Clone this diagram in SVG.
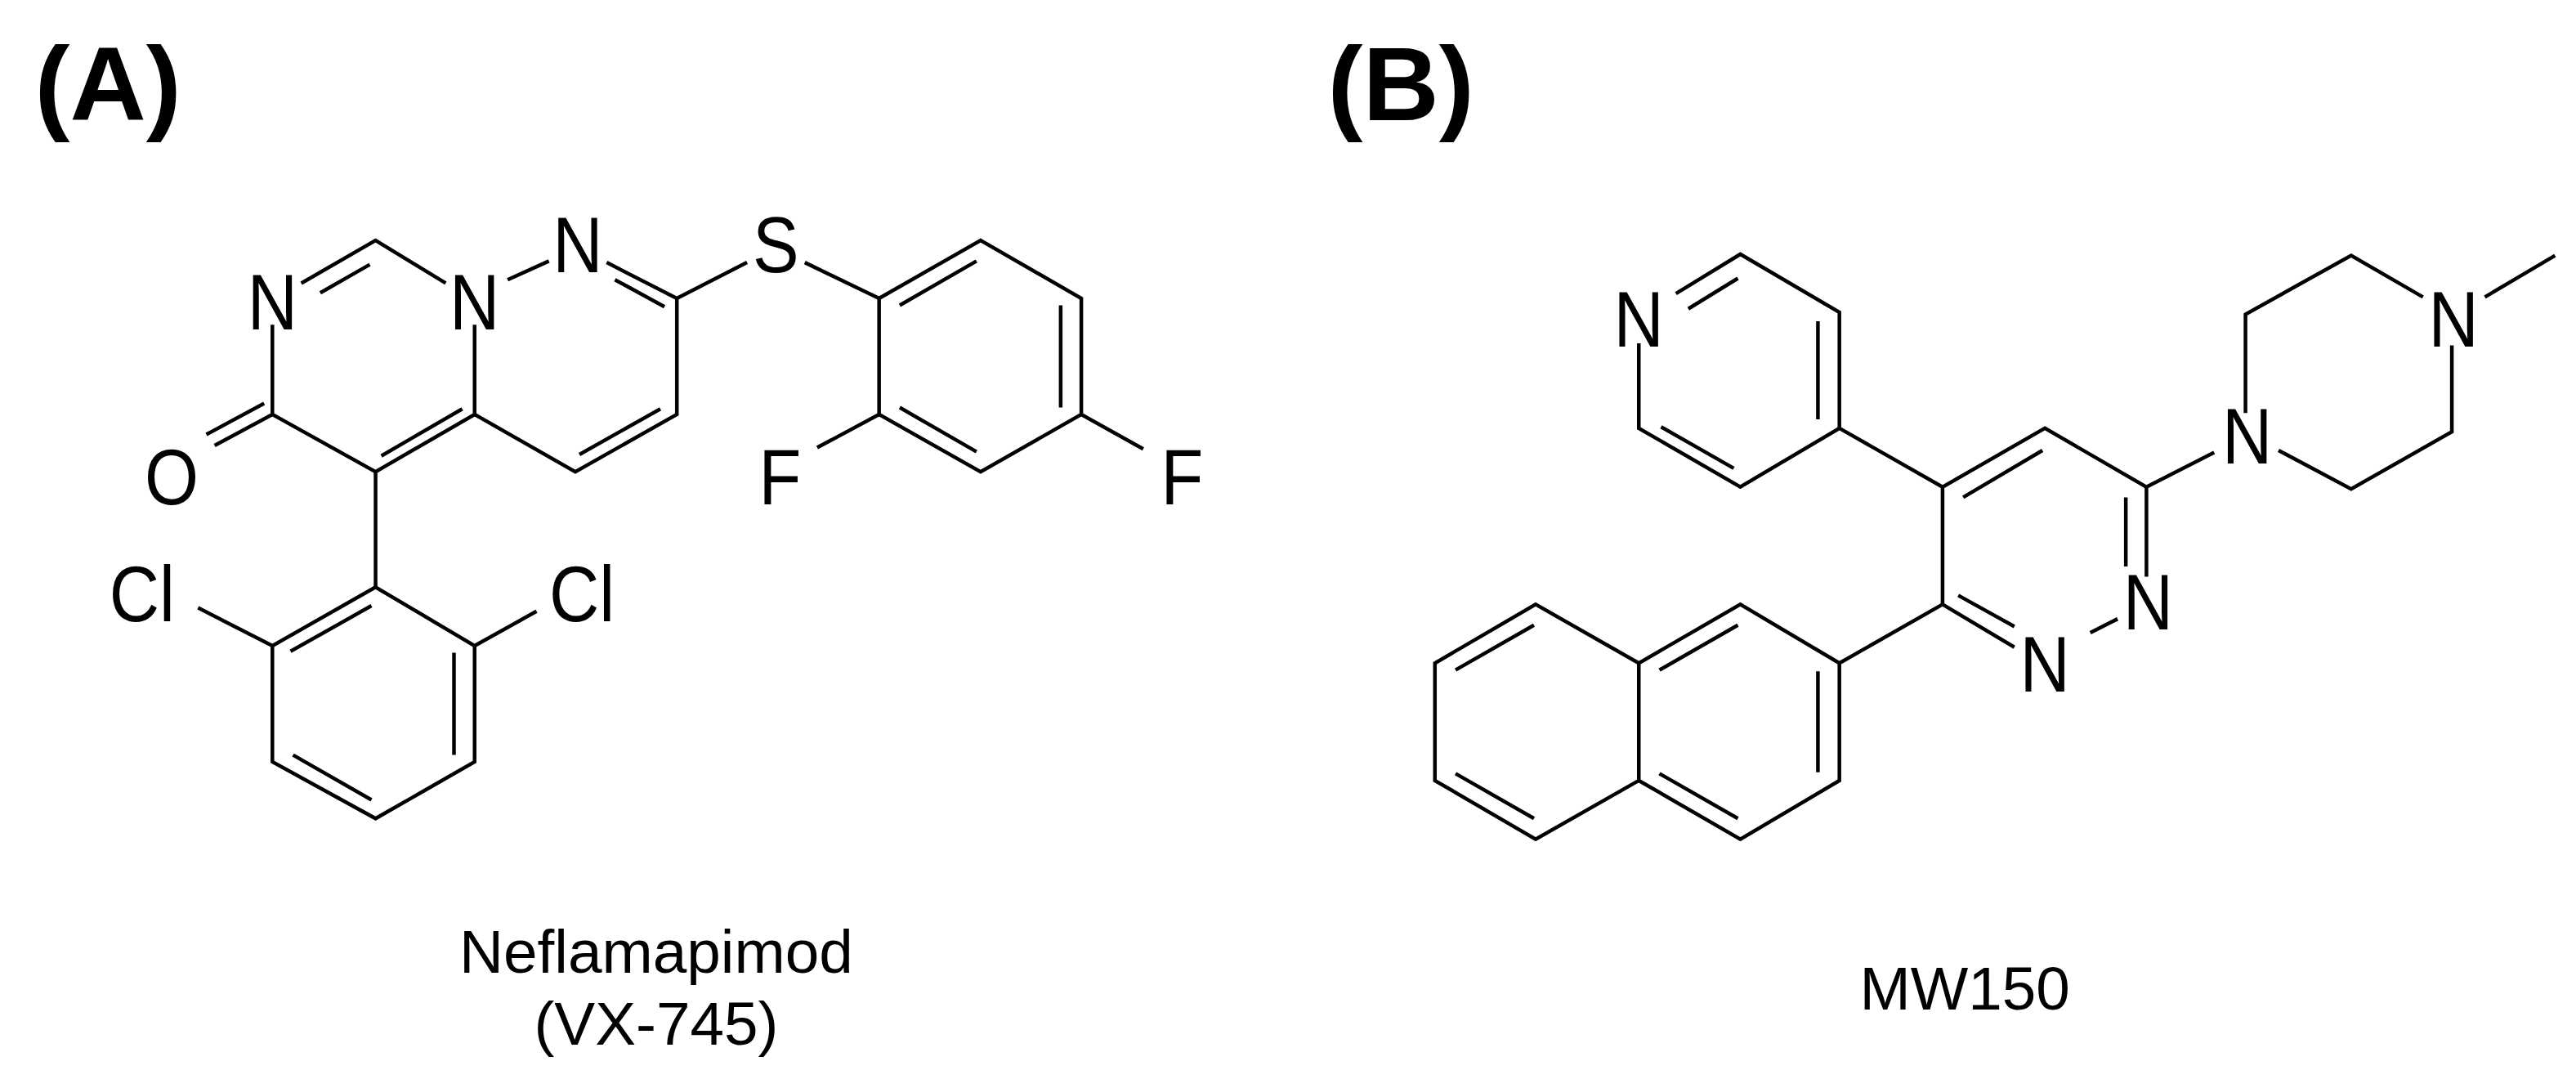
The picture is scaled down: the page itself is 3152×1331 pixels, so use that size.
<svg xmlns="http://www.w3.org/2000/svg" width="3152" height="1331" viewBox="0 0 3152 1331">
<style>
.b{stroke:#000;stroke-width:4.5;fill:none;stroke-linecap:butt}
.b path{vector-effect:non-scaling-stroke}
.t{font-family:"Liberation Sans",Arial,sans-serif;fill:#000;text-anchor:middle}
.at{font-size:84px}
.h{font-size:128px;font-weight:bold;text-anchor:start}
.c{font-size:74px}
</style>
<rect width="3152" height="1331" fill="#fff"/>
<g id="panelA" transform="scale(1.01,1)">
<g id="labelsA" class="t">
<text id="titleA" class="t h" x="42" y="147">(A)</text>
<g class="at">
<text transform="translate(330,403) scale(1,1.15)">N</text>
<text transform="translate(575,403) scale(1,1.15)">N</text>
<text transform="translate(700,333) scale(1,1.15)">N</text>
<text transform="translate(940,333) scale(1,1.15)">S</text>
<text transform="translate(208,617) scale(1,1.15)">O</text>
<text transform="translate(945,617) scale(1,1.15)">F</text>
<text transform="translate(1432,617) scale(1,1.15)">F</text>
<text transform="translate(172,760) scale(1,1.15)">Cl</text>
<text transform="translate(705,760) scale(1,1.15)">Cl</text>
</g>
<text class="t c" x="795" y="1190">Neflamapimod</text>
<text class="t c" x="795" y="1278">(VX-745)</text>
</g>
<g id="bondsA" class="b" transform="scale(1,0.845)">
<path d="M365,410 L455,348 L540,410 M388,424 L448,383 M615,405 L665,378 M735,380 L820,432 M745,405 L805,444 M820,432 L905,380 M975,380 L1065,432"/>
<path d="M820,432 L820,600 L697,683 L575,600 L575,470 M800,592 L702,658"/>
<path d="M330,470 L330,600 L455,683 L575,600 M462,660 L560,592 M330,600 L260,645 M320,584 L250,629 M455,683 L455,850"/>
<path d="M455,850 L330,935 L330,1103 L455,1185 L575,1103 L575,935 Z M450,877 L352,943 M550,945 L550,1093 M355,1093 L450,1158 M330,935 L240,880 M575,935 L650,885"/>
<path d="M1065,432 L1188,348 L1310,432 L1310,600 L1188,683 L1065,600 Z M1090,442 L1183,378 M1285,442 L1285,590 M1090,590 L1183,654 M1065,600 L990,648 M1310,600 L1385,650"/>
</g>
</g>
<g id="panelB" transform="translate(1576,0) scale(1.01,1)">
<g id="labelsB">
<text class="t h" x="48" y="147">(B)</text>
<g class="t at">
<text transform="translate(425,424) scale(1,1.15)">N</text>
<text transform="translate(1042,770) scale(1,1.15)">N</text>
<text transform="translate(917,846) scale(1,1.15)">N</text>
<text transform="translate(1162,567) scale(1,1.15)">N</text>
<text transform="translate(1412,424) scale(1,1.15)">N</text>
</g>
<text class="t c" x="820" y="1235">MW150</text>
</g>
<g id="bondsB" class="b" transform="scale(1,0.845)">
<path d="M470,425 L548,368 L668,452 L668,620 L548,705 L425,620 L425,497 M485,447 L545,403 M642,465 L642,607 M540,678 L452,618 M668,620 L793,705"/>
<path d="M793,875 L793,705 L917,620 L1040,705 L1040,835 M818,720 L914,652 M1015,720 L1015,820 M1005,896 L972,916 M880,937 L793,875 M812,862 L880,907 M1040,705 L1122,655"/>
<path d="M1160,598 L1160,455 L1288,370 L1375,430 M1410,500 L1410,625 L1288,708 L1200,652 M1450,430 L1535,370"/>
<path d="M793,875 L668,960 M668,960 L548,875 L425,960 L425,1130 L548,1215 L668,1130 Z M642,972 L642,1118 M545,905 L450,970 M450,1120 L545,1185"/>
<path d="M425,960 L300,875 L178,960 L178,1130 L300,1215 L425,1130 M298,905 L203,970 M203,1120 L298,1185"/>
</g>
</g>
</svg>
